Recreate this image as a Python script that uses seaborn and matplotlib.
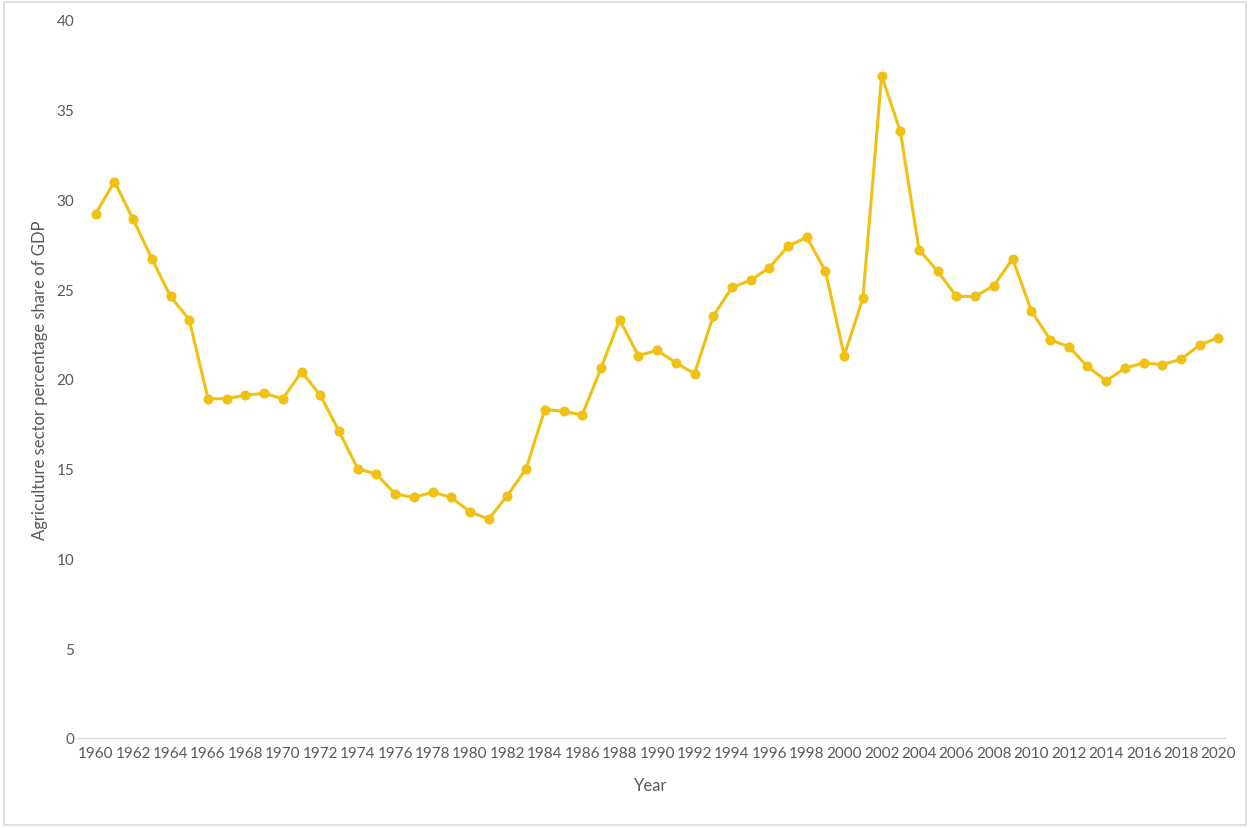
import matplotlib
matplotlib.use("Agg")
import matplotlib.pyplot as plt
import seaborn as sns
import pandas as pd
from matplotlib.patches import Rectangle

years = list(range(1960, 2021))
share = [29.2, 31.0, 28.9, 26.7, 24.6, 23.3, 18.9, 18.9, 19.1, 19.2,
         18.9, 20.4, 19.1, 17.1, 15.0, 14.7, 13.6, 13.4, 13.7, 13.4,
         12.6, 12.2, 13.5, 15.0, 18.3, 18.2, 18.0, 20.6, 23.3, 21.3,
         21.6, 20.9, 20.3, 23.5, 25.1, 25.5, 26.2, 27.4, 27.9, 26.0,
         21.3, 24.5, 36.9, 33.8, 27.2, 26.0, 24.6, 24.6, 25.2, 26.7,
         23.8, 22.2, 21.8, 20.7, 19.9, 20.6, 20.9, 20.8, 21.1, 21.9,
         22.3]
x_ticks = list(range(1960, 2021, 2))
y_ticks = list(range(0, 41, 5))

df = pd.DataFrame({"Year": years, "Share": share})

sns.set_theme(style="white")
plt.rcParams['font.family'] = ['Lato', 'DejaVu Sans']

fig = plt.figure(figsize=(12.5, 8.29), dpi=100)
ax = fig.add_axes([77/1250, 1 - 739/829, (1225 - 77)/1250, (739 - 21)/829])

color = "#F0C013"
sns.lineplot(data=df, x="Year", y="Share", ax=ax, color=color, linewidth=2.2,
             marker="o", markersize=6.5, markeredgecolor=color, markerfacecolor=color)

ax.set_xlim(1959.0, 2020.35)
ax.set_ylim(0, 40)
ax.set_xticks(x_ticks)
ax.set_xticklabels([str(t) for t in x_ticks])
ax.set_yticks(y_ticks)

text_color = "#595959"
ax.tick_params(axis="both", which="both", length=0, labelsize=11, colors=text_color)
ax.tick_params(axis="y", pad=2)
ax.tick_params(axis="x", pad=6)

for s in ["top", "right", "left"]:
    ax.spines[s].set_visible(False)
ax.spines["bottom"].set_color("#D9D9D9")
ax.spines["bottom"].set_linewidth(1.0)

ax.set_xlabel("Year", fontsize=12, color=text_color, labelpad=12)
ax.set_ylabel("Agriculture sector percentage share of GDP", fontsize=12,
              color=text_color, labelpad=6)
ax.grid(False)

fig.patches.append(Rectangle((0.003, 0.004), 0.994, 0.992, transform=fig.transFigure,
                             fill=False, edgecolor="#D9D9D9", linewidth=1.2))

fig.savefig("out.png", dpi=100)
